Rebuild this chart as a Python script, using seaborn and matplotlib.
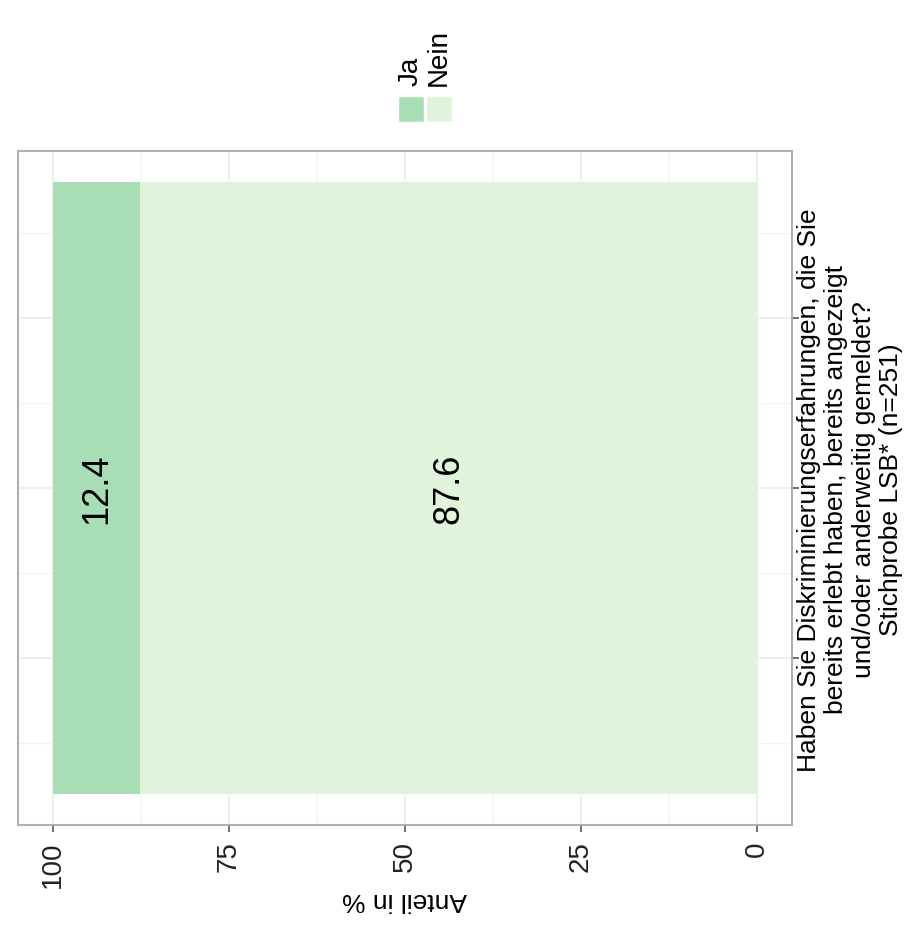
import matplotlib
matplotlib.use('Agg')
import matplotlib.pyplot as plt
import numpy as np
import pandas as pd
import seaborn as sns
from matplotlib.patches import Rectangle

# Daten (Bild ist um 90 Grad gedreht)
antworten = ['Ja', 'Nein']
anteile = [12.4, 87.6]
farben = ['#a8ddb5', '#e0f3db']
frage = ("Haben Sie Diskriminierungserfahrungen, die Sie\n"
         "bereits erlebt haben, bereits angezeigt\n"
         "und/oder anderweitig gemeldet?\n"
         "Stichprobe LSB* (n=251)")
x_ticks = [100, 75, 50, 25, 0]

sns.set_theme(style='white')
plt.rcParams['font.family'] = ['Liberation Sans', 'DejaVu Sans']

W, H = 912, 928
fig = plt.figure(figsize=(W / 100, H / 100), dpi=100)
ax = fig.add_axes([18 / W, (H - 826) / H, 774 / W, 674 / H])

# gestapelt: Ja oben auf dem Stapel (87.6..100), Nein 0..87.6
oben = np.cumsum(anteile[::-1])[::-1]
df = pd.DataFrame({'antwort': antworten, 'anteil': anteile, 'oben': oben,
                   'frage': 'q'})
for i, row in df.iterrows():
    sns.barplot(data=df.iloc[[i]], x='oben', y='frage', color=farben[i],
                saturation=1, width=0.9, orient='h', ax=ax, zorder=2,
                linewidth=0, edgecolor='none')
    ax.text(row['oben'] - row['anteil'] / 2, 0, f"{row['anteil']:.1f}",
            rotation=90, ha='center', va='center', fontsize=26, color='black',
            zorder=3)

ax.set_xlim(105, -5)
ax.set_ylim(0.495, -0.495)
ax.set_xticks(x_ticks)
ax.set_xticks([87.5, 62.5, 37.5, 12.5], minor=True)
ax.set_yticks([-0.25, 0, 0.25])
ax.set_yticklabels(['', '', ''])
ax.set_yticks([-0.375, -0.125, 0.125, 0.375], minor=True)
ax.yaxis.tick_right()
ax.set_xlabel('')
ax.set_ylabel('')

ax.grid(which='major', color='#ebebeb', lw=1.2)
ax.grid(which='minor', color='#f2f2f2', lw=0.9)
ax.set_axisbelow(True)
for s in ax.spines.values():
    s.set_visible(True)
    s.set_color('#b0b0b0')
    s.set_linewidth(1.5)

ax.tick_params(axis='x', which='major', bottom=True, length=5, width=1.2,
               color='#555555', labelsize=20, labelcolor='#222222',
               labelrotation=90, pad=6)
ax.tick_params(axis='y', which='major', right=True, left=False, length=5,
               width=1.2, color='#555555')
ax.tick_params(which='minor', length=0)

# Achsentitel (auf dem Kopf)
fig.text(405 / W, (H - 900) / H, 'Anteil in %', rotation=180, ha='center',
         va='center', fontsize=19, color='black')

# Kategorienbeschriftung rechts
fig.text(797 / W, (H - 490) / H, frage, rotation=90, ha='left', va='center',
         multialignment='center', fontsize=19, linespacing=1.18,
         color='black')

# Legende
key_x = [398, 426]
for i, name in enumerate(antworten):
    fig.patches.append(Rectangle((key_x[i] / W, (H - 123) / H), 26 / W, 26 / H,
                                 transform=fig.transFigure,
                                 facecolor=farben[i], edgecolor='white', lw=1))
    fig.text((key_x[i] + 13) / W, (H - 86) / H, name, rotation=90,
             ha='center', va='bottom', fontsize=20, color='black')

fig.savefig('out.png', dpi=100)
